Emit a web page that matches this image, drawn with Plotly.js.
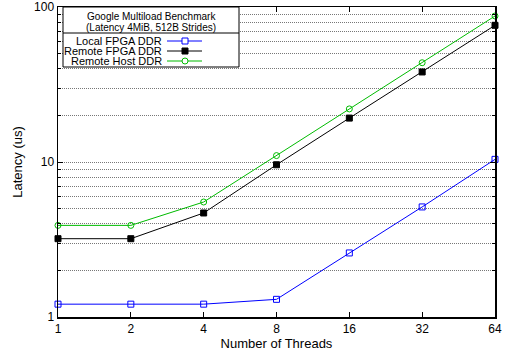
<!DOCTYPE html>
<html><head><meta charset="utf-8">
<script src="https://cdn.plot.ly/plotly-3.0.1.min.js"></script>
<style>html,body{margin:0;padding:0;background:#fff}</style>
</head><body><div id="c" style="width:506px;height:353px"></div>
<script>
const threads = [1, 2, 4, 8, 16, 32, 64];
const localFpga = [1.21, 1.21, 1.21, 1.30, 2.59, 5.13, 10.4];
const remoteFpga = [3.2, 3.2, 4.69, 9.6, 19.2, 38.1, 76.2];
const remoteHost = [3.9, 3.9, 5.52, 11.0, 22.0, 43.7, 87.5];
const seriesNames = ['Local FPGA DDR', 'Remote FPGA DDR', 'Remote Host DDR'];
const colors = ['#0000ff', '#000000', '#00bb00'];
const symbols = ['square-open', 'square', 'circle-open'];
const yTicks = [1, 10, 100];
const legendTitle = ['Google Multiload Benchmark', '(Latency 4MiB, 512B Strides)'];

const F = 'Liberation Sans, Arial, sans-serif';
const series = [localFpga, remoteFpga, remoteHost];
const traces = series.map((ys, i) => ({
  x: threads, y: ys, type: 'scatter', mode: 'lines+markers', name: seriesNames[i],
  line: {color: colors[i], width: 1},
  marker: {symbol: symbols[i], color: colors[i], size: 6, line: {color: colors[i], width: 1}},
  showlegend: false, cliponaxis: false
}));

// custom legend (paper coords), plot area 58..495 x, 7..317 y in px
const W = 437, H = 310;
const px = v => (v - 58) / W;
const py = v => (317 - v) / H;
const shapes = [
  {type: 'rect', xref: 'paper', yref: 'paper', x0: px(63), x1: px(239), y0: py(67), y1: py(7),
   fillcolor: '#ffffff', line: {color: '#000', width: 1}, layer: 'above'},
  {type: 'line', xref: 'paper', yref: 'paper', x0: px(63), x1: px(239), y0: py(33), y1: py(33),
   line: {color: '#000', width: 1}, layer: 'above'}
];
const annotations = [
  {xref: 'paper', yref: 'paper', x: px(151), y: py(16), text: legendTitle[0], showarrow: false,
   font: {family: F, size: 10, color: '#000'}, xanchor: 'center', yanchor: 'middle'},
  {xref: 'paper', yref: 'paper', x: px(151), y: py(27), text: legendTitle[1], showarrow: false,
   font: {family: F, size: 10, color: '#000'}, xanchor: 'center', yanchor: 'middle'}
];
const rowY = [41, 51, 61];
seriesNames.forEach((n, i) => {
  annotations.push({xref: 'paper', yref: 'paper', x: px(164), y: py(rowY[i]), text: n, showarrow: false,
    font: {family: F, size: 11, color: '#000'}, xanchor: 'right', yanchor: 'middle'});
  shapes.push({type: 'line', xref: 'paper', yref: 'paper', x0: px(167), x1: px(202), y0: py(rowY[i]), y1: py(rowY[i]),
    line: {color: colors[i], width: 1}, layer: 'above'});
  const s = 3, cx = 185, cy = rowY[i];
  shapes.push({type: symbols[i].startsWith('circle') ? 'circle' : 'rect', xref: 'paper', yref: 'paper',
    x0: px(cx - s), x1: px(cx + s), y0: py(cy + s), y1: py(cy - s),
    fillcolor: symbols[i].endsWith('open') ? '#ffffff' : colors[i],
    line: {color: colors[i], width: 1}, layer: 'above'});
});

const layout = {
  width: 506, height: 353,
  margin: {l: 58, r: 11, t: 7, b: 36},
  paper_bgcolor: '#fff', plot_bgcolor: '#fff',
  font: {family: F, size: 12, color: '#000'},
  xaxis: {
    type: 'log', range: [0, Math.log10(64)], tickvals: threads, ticktext: threads.map(String),
    ticks: 'inside', ticklen: 5, tickcolor: '#000', showgrid: false, zeroline: false,
    showline: true, linecolor: '#000', linewidth: 1.5, mirror: 'ticks',
    title: {text: 'Number of Threads', font: {family: F, size: 13}, standoff: 2},
    tickfont: {family: F, size: 12, color: '#000'}
  },
  yaxis: {
    type: 'log', range: [0, 2], tickvals: yTicks, ticktext: yTicks.map(String),
    ticks: 'inside', ticklen: 5, tickcolor: '#000',
    showgrid: true, gridcolor: '#777', griddash: '1px,1px', gridwidth: 1,
    minor: {dtick: 'D1', ticks: 'inside', ticklen: 3, tickcolor: '#000', showgrid: true, gridcolor: '#777', griddash: '1px,1px', gridwidth: 1},
    zeroline: false, showline: true, linecolor: '#000', linewidth: 1.5, mirror: 'ticks',
    title: {text: 'Latency (us)', font: {family: F, size: 13}, standoff: 8},
    tickfont: {family: F, size: 12, color: '#000'}
  },
  shapes: shapes, annotations: annotations, showlegend: false
};
Plotly.newPlot('c', traces, layout, {staticPlot: true, displayModeBar: false});
</script></body></html>
